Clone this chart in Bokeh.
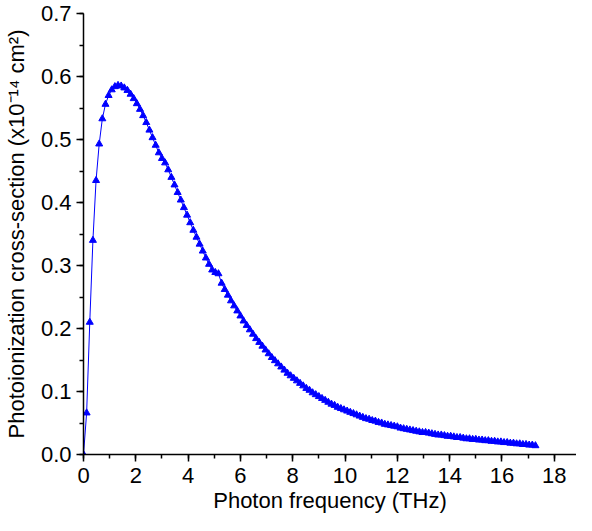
from bokeh.plotting import figure
from bokeh.models import Range1d, SingleIntervalTicker, NumeralTickFormatter
from bokeh.embed import file_html
from bokeh.resources import INLINE

freq_thz = [
    0.00, 0.12, 0.24, 0.36, 0.48, 0.60, 0.72, 0.84, 0.96, 1.08,
    1.20, 1.32, 1.44, 1.56, 1.68, 1.80, 1.92, 2.04, 2.16, 2.28,
    2.40, 2.52, 2.64, 2.76, 2.88, 3.00, 3.12, 3.24, 3.36, 3.48,
    3.60, 3.72, 3.84, 3.96, 4.08, 4.20, 4.32, 4.44, 4.56, 4.68,
    4.80, 4.92, 5.04, 5.16, 5.28, 5.40, 5.52, 5.64, 5.76, 5.88,
    6.00, 6.12, 6.24, 6.36, 6.48, 6.60, 6.72, 6.84, 6.96, 7.08,
    7.20, 7.32, 7.44, 7.56, 7.68, 7.80, 7.92, 8.04, 8.16, 8.28,
    8.40, 8.52, 8.64, 8.76, 8.88, 9.00, 9.12, 9.24, 9.36, 9.48,
    9.60, 9.72, 9.84, 9.96, 10.08, 10.20, 10.32, 10.44, 10.56, 10.68,
    10.80, 10.92, 11.04, 11.16, 11.28, 11.40, 11.52, 11.64, 11.76, 11.88,
    12.00, 12.12, 12.24, 12.36, 12.48, 12.60, 12.72, 12.84, 12.96, 13.08,
    13.20, 13.32, 13.44, 13.56, 13.68, 13.80, 13.92, 14.04, 14.16, 14.28,
    14.40, 14.52, 14.64, 14.76, 14.88, 15.00, 15.12, 15.24, 15.36, 15.48,
    15.60, 15.72, 15.84, 15.96, 16.08, 16.20, 16.32, 16.44, 16.56, 16.68,
    16.80, 16.92, 17.04, 17.16, 17.28,
]

cross_section = [
    0.000, 0.066, 0.210, 0.340, 0.435, 0.493, 0.533, 0.556, 0.570, 0.579,
    0.584, 0.586, 0.585, 0.582, 0.578, 0.572, 0.565, 0.557, 0.548, 0.538,
    0.527, 0.515, 0.503, 0.491, 0.479, 0.470, 0.463, 0.452, 0.440, 0.428,
    0.416, 0.404, 0.392, 0.380, 0.368, 0.356, 0.345, 0.334, 0.323, 0.312,
    0.302, 0.293, 0.289, 0.287, 0.272, 0.262, 0.253, 0.244, 0.236, 0.228,
    0.220, 0.212, 0.205, 0.198, 0.191, 0.184, 0.178, 0.172, 0.166, 0.160,
    0.154, 0.149, 0.144, 0.139, 0.134, 0.129, 0.125, 0.121, 0.117, 0.113,
    0.109, 0.105, 0.102, 0.098, 0.095, 0.092, 0.089, 0.086, 0.083, 0.080,
    0.078, 0.075, 0.073, 0.071, 0.069, 0.067, 0.065, 0.063, 0.061, 0.059,
    0.057, 0.056, 0.054, 0.053, 0.051, 0.050, 0.048, 0.047, 0.046, 0.045,
    0.044, 0.042, 0.041, 0.040, 0.039, 0.038, 0.037, 0.036, 0.035, 0.035,
    0.034, 0.033, 0.032, 0.031, 0.031, 0.030, 0.029, 0.029, 0.028, 0.027,
    0.027, 0.026, 0.025, 0.025, 0.024, 0.024, 0.023, 0.023, 0.022, 0.022,
    0.021, 0.021, 0.020, 0.020, 0.019, 0.019, 0.018, 0.018, 0.017, 0.017,
    0.016, 0.016, 0.015, 0.015, 0.014,
]

x_title = "Photon frequency (THz)"
y_title = "Photoionization cross-section (x10\u207b\u00b9\u2074 cm\u00b2)"

p = figure(width=576, height=515, output_backend="svg", toolbar_location=None,
           x_range=Range1d(0, 18.85), y_range=Range1d(0, 0.7001),
           min_border_left=79, min_border_right=0, min_border_top=13, min_border_bottom=0)
p.outline_line_color = None
p.xgrid.visible = False
p.ygrid.visible = False

blue = "#0000ff"
p.line(freq_thz, cross_section, line_color=blue, line_width=1)
p.scatter(freq_thz, cross_section, marker="triangle", size=7,
          fill_color=blue, line_color=blue)

font = "Liberation Sans"
for ax in (p.xaxis[0], p.yaxis[0]):
    ax.axis_line_color = "black"
    ax.axis_line_width = 1.5
    ax.major_tick_line_color = "black"
    ax.major_tick_line_width = 1.5
    ax.minor_tick_line_color = "black"
    ax.minor_tick_line_width = 1.5
    ax.major_tick_in = 0
    ax.major_tick_out = 7
    ax.minor_tick_in = 0
    ax.minor_tick_out = 4
    ax.major_label_text_font = font
    ax.major_label_text_font_size = "22px"
    ax.major_label_text_color = "black"
    ax.axis_label_text_font = font
    ax.axis_label_text_font_size = "22px"
    ax.axis_label_text_font_style = "normal"
    ax.axis_label_text_color = "black"

p.xaxis[0].ticker = SingleIntervalTicker(interval=2, num_minor_ticks=2)
p.yaxis[0].ticker = SingleIntervalTicker(interval=0.1, num_minor_ticks=2)
p.yaxis[0].formatter = NumeralTickFormatter(format="0.0")
p.xaxis[0].axis_label = x_title
p.yaxis[0].axis_label = y_title
p.xaxis[0].major_label_standoff = 6
p.yaxis[0].major_label_standoff = 5
p.xaxis[0].axis_label_standoff = 2
p.yaxis[0].axis_label_standoff = 9

open("out.html", "w").write(file_html(p, INLINE))
